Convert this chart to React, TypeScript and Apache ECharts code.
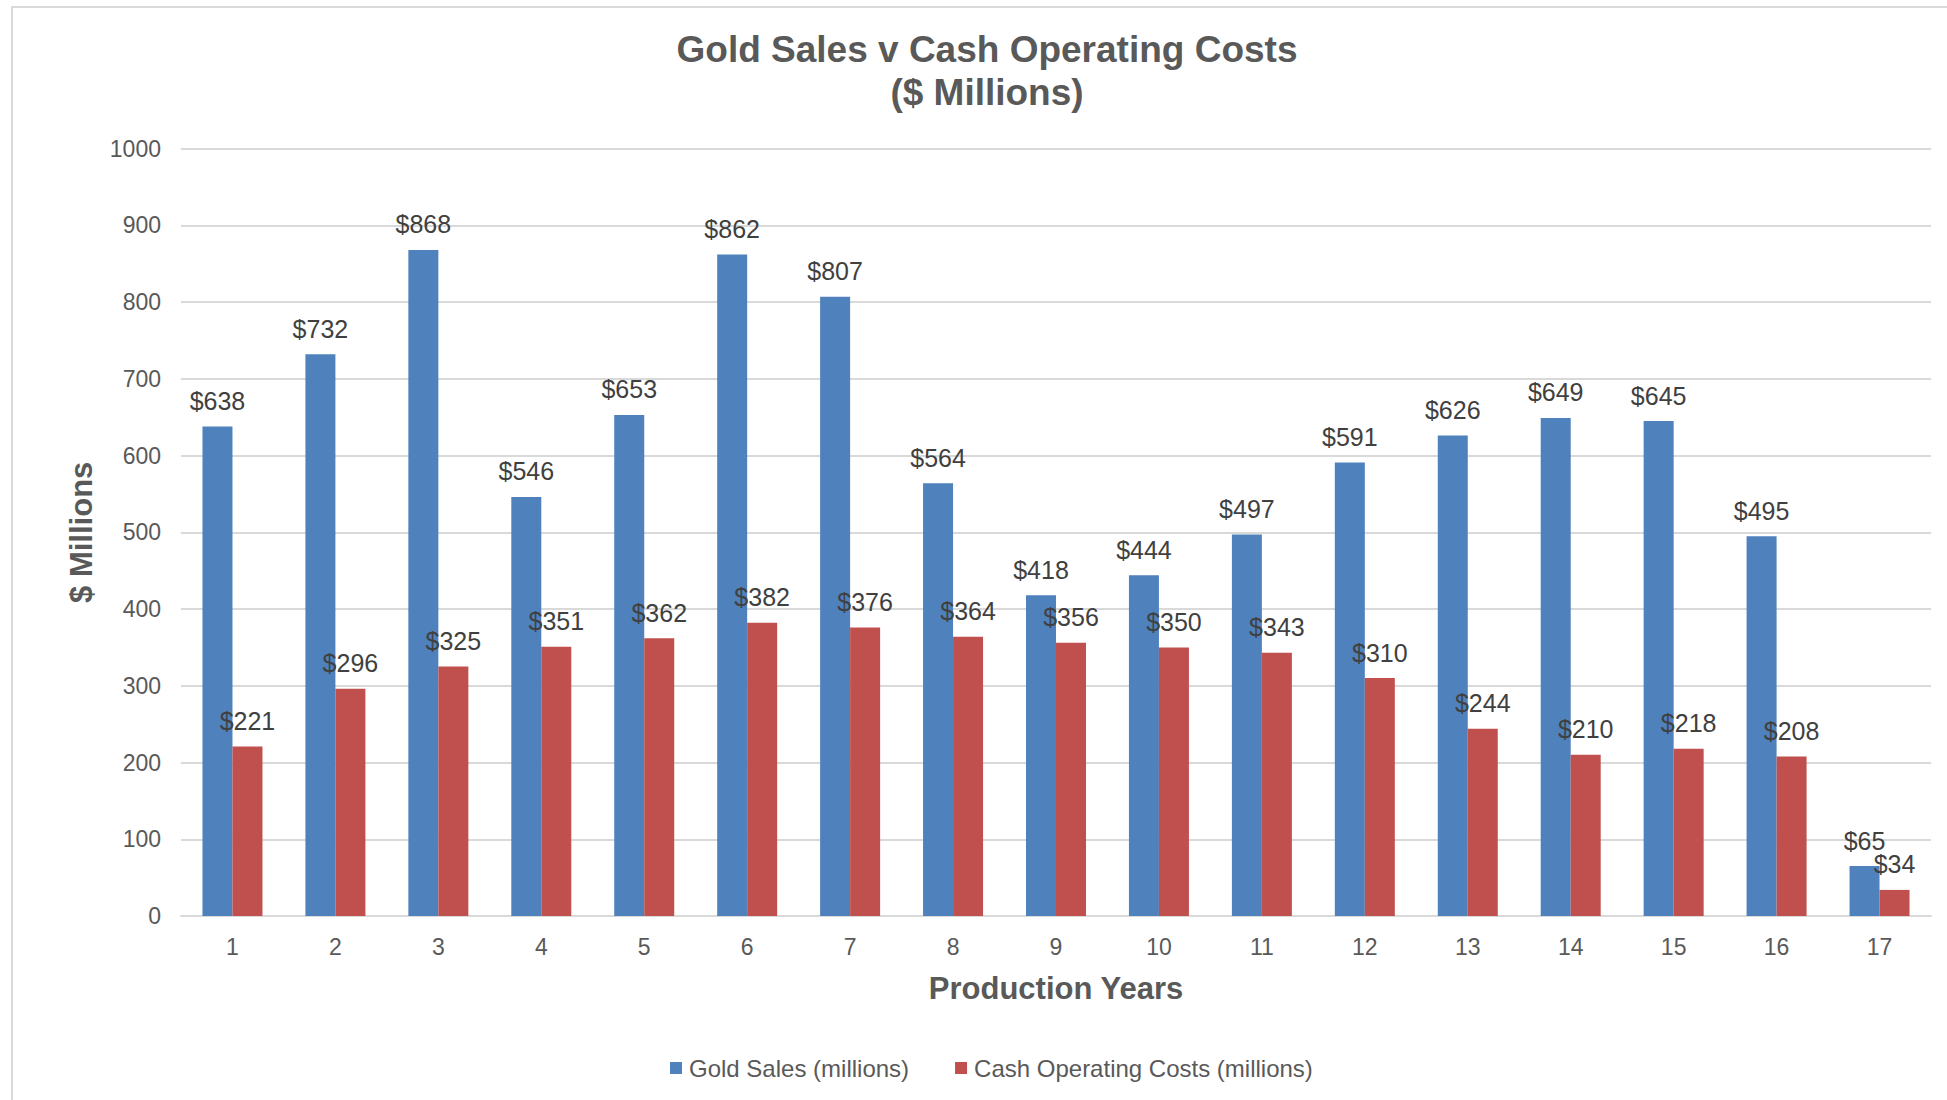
import React, { useEffect, useRef } from "react";
import * as echarts from "echarts";

const years = ["1","2","3","4","5","6","7","8","9","10","11","12","13","14","15","16","17"];
const goldSales = [638, 732, 868, 546, 653, 862, 807, 564, 418, 444, 497, 591, 626, 649, 645, 495, 65];
const cashCosts = [221, 296, 325, 351, 362, 382, 376, 364, 356, 350, 343, 310, 244, 210, 218, 208, 34];
const seriesNames = ["Gold Sales (millions)", "Cash Operating Costs (millions)"];
const titleText = "Gold Sales v Cash Operating Costs\n($ Millions)";
const xAxisTitle = "Production Years";
const yAxisTitle = "$ Millions";

const FONT = "'Liberation Sans', Arial, sans-serif";

export default function App() {
  const ref = useRef<HTMLDivElement>(null);
  useEffect(() => {
    if (!ref.current) return;
    const chart = echarts.init(ref.current, null, { renderer: "svg" });
    const labelCfg = {
      show: true,
      position: "top",
      distance: 13,
      color: "#404040",
      fontSize: 25,
      fontFamily: FONT,
      formatter: (p: any) => "$" + p.value,
    };
    chart.setOption({
      animation: false,
      backgroundColor: "#ffffff",
      textStyle: { fontFamily: FONT },
      title: {
        text: titleText,
        left: 987,
        top: 28,
        padding: 0,
        textAlign: "center",
        textStyle: {
          fontSize: 37,
          fontWeight: "bold",
          color: "#595959",
          lineHeight: 43,
          fontFamily: FONT,
        },
      },
      graphic: [
        {
          type: "rect",
          z: -10,
          shape: { x: 12, y: 7, width: 1960, height: 1110 },
          style: { fill: "none", stroke: "#d9d9d9", lineWidth: 2 },
          silent: true,
        },
      ],
      legend: {
        data: seriesNames,
        left: 670,
        top: 1056,
        padding: 0,
        itemWidth: 12,
        itemHeight: 12,
        itemGap: 46,
        icon: "rect",
        textStyle: { fontSize: 24, color: "#595959", fontFamily: FONT, padding: [0, 0, 0, 2] },
      },
      grid: { left: 181, right: 16, top: 148.6, bottom: 184, containLabel: false },
      xAxis: {
        type: "category",
        data: years,
        name: xAxisTitle,
        nameLocation: "middle",
        nameGap: 57,
        nameTextStyle: { fontSize: 31, fontWeight: "bold", color: "#595959", fontFamily: FONT },
        axisLine: { show: true, lineStyle: { color: "#d9d9d9", width: 2 } },
        axisTick: { show: false },
        axisLabel: { fontSize: 23, color: "#595959", margin: 19, fontFamily: FONT },
      },
      yAxis: {
        type: "value",
        min: 0,
        max: 1000,
        interval: 100,
        name: yAxisTitle,
        nameLocation: "middle",
        nameGap: 84,
        nameTextStyle: { fontSize: 31, fontWeight: "bold", color: "#595959", fontFamily: FONT },
        axisLine: { show: false },
        axisTick: { show: false },
        axisLabel: {
          fontSize: 23,
          color: "#595959",
          margin: 20,
          fontFamily: FONT,
          formatter: (v: number) => String(v),
        },
        splitLine: { show: true, lineStyle: { color: "#d9d9d9", width: 2 } },
      },
      series: [
        {
          name: seriesNames[0],
          type: "bar",
          data: goldSales,
          barWidth: 30,
          barGap: "0%",
          itemStyle: { color: "#4F81BD" },
          label: labelCfg,
        },
        {
          name: seriesNames[1],
          type: "bar",
          data: cashCosts,
          barWidth: 30,
          barGap: "0%",
          itemStyle: { color: "#C0504D" },
          label: labelCfg,
        },
      ],
    });
    return () => chart.dispose();
  }, []);
  return (
    <div
      ref={ref}
      style={{ position: "absolute", left: 0, top: 0, width: 1947, height: 1100 }}
    />
  );
}
